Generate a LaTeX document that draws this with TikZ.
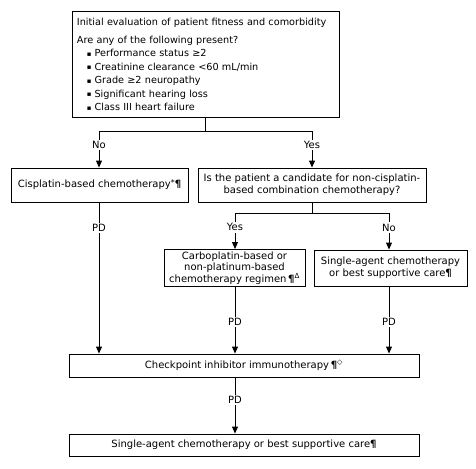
\documentclass[tikz,border=0pt]{standalone}
\usepackage{fontspec}
\setmainfont{DejaVu Sans}
\usetikzlibrary{arrows.meta}
% footnote-style marks after box texts
\newcommand\fnmark[1]{\textsuperscript{#1}}
\newcommand\para{\textbf{¶}}
\newcommand\bulletitem{\hspace*{10pt}\raisebox{0.8pt}{\scalebox{0.7}{▪}}\hspace{3pt}}
\begin{document}
\begin{tikzpicture}[x=1pt,y=-1pt,
  box/.style={draw, line width=0.9pt, fill=white, align=center, inner sep=2pt,
              font=\fontsize{10}{11.7}\selectfont},
  link/.style={line width=0.9pt},
  arr/.style={link, -{Triangle[length=7pt,width=6pt]}},
  lbl/.style={fill=white, inner sep=1.5pt, font=\fontsize{10}{12}\selectfont}]
\useasboundingbox[fill=white] (0,0) rectangle (476,468);

% initial evaluation
\node[box, anchor=north west, align=left, text width=258pt, inner xsep=4.5pt,
      minimum width=267pt, minimum height=106pt,
      font=\fontsize{9.7}{13.5}\selectfont] (eval) at (72,11)
  {Initial evaluation of patient fitness and comorbidity\\[4.5pt]
   Are any of the following present?\\
   \bulletitem Performance status ≥2\\
   \bulletitem Creatinine clearance <60 mL/min\\
   \bulletitem Grade ≥2 neuropathy\\
   \bulletitem Significant hearing loss\\
   \bulletitem Class III heart failure};

% first decision level
\node[box, minimum width=177pt, minimum height=34pt] (cis) at (99.5,185)
  {Cisplatin-based chemotherapy\raisebox{2pt}{\scalebox{0.8}{*}}\para};
\node[box, minimum width=228pt, minimum height=34pt] (cand) at (312,185)
  {Is the patient a candidate for non-cisplatin-\\based combination chemotherapy?};

% second decision level
\node[box, minimum width=141pt, minimum height=36pt] (carbo) at (234.5,268)
  {Carboplatin-based or\\non-platinum-based\\chemotherapy regimen\,\para\fnmark{Δ}};
\node[box, minimum width=153pt, minimum height=36pt] (single) at (390.5,268)
  {Single-agent chemotherapy\\or best supportive care\para};

% later lines of therapy
\node[box, minimum width=350pt, minimum height=23pt] (check) at (244,365.5)
  {Checkpoint inhibitor immunotherapy\,\para\fnmark{◇}};
\node[box, minimum width=350pt, minimum height=22pt] (last) at (244,445)
  {Single-agent chemotherapy or best supportive care\para};

% branch points
\coordinate (j1) at (205,131);
\coordinate (noTurn) at (99,131);
\coordinate (yesTurn) at (312,131);
\coordinate (j2) at (312,213);
\coordinate (yes2) at (235,213);
\coordinate (no2) at (389,213);

\draw[link] (eval.south -| j1) -- (j1);
\draw[link] (noTurn) -- (yesTurn);
\draw[arr] (noTurn) -- node[lbl, pos=0.38] {No} (noTurn |- cis.north);
\draw[arr] (yesTurn) -- node[lbl, pos=0.38] {Yes} (yesTurn |- cand.north);

\draw[link] (cand.south -| j2) -- (j2);
\draw[link] (yes2) -- (no2);
\draw[arr] (yes2) -- node[lbl, pos=0.4] {Yes} (yes2 |- carbo.north);
\draw[arr] (no2) -- node[lbl, pos=0.4] {No} (no2 |- single.north);

\draw[arr] (noTurn |- cis.south) -- node[lbl, pos=0.17] {PD} (noTurn |- check.north);
\draw[arr] (yes2 |- carbo.south) -- node[lbl, pos=0.53] {PD} (yes2 |- check.north);
\draw[arr] (no2 |- single.south) -- node[lbl, pos=0.53] {PD} (no2 |- check.north);
\draw[arr] (yes2 |- check.south) -- node[lbl, pos=0.4] {PD} (yes2 |- last.north);
\end{tikzpicture}
\end{document}
